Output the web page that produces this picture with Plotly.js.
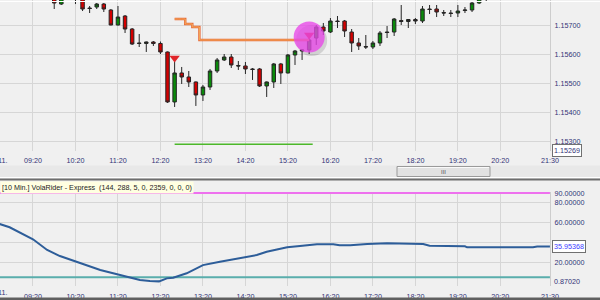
<!DOCTYPE html>
<html>
<head>
<meta charset="utf-8">
<script src="https://cdn.plot.ly/plotly-3.0.1.min.js"></script>
<style>
html,body{margin:0;padding:0;background:#f0f0f0;}
#chart{width:600px;height:300px;}
</style>
</head>
<body>
<div id="chart"></div>
<script>
// ---------- DATA ----------
var DAY = '2010-11-23 ';

var candleTime = ['09:50','10:00','10:10','10:20','10:30','10:40','10:50','11:00','11:10','11:20',
  '11:30','11:40','11:50','12:00','12:10','12:20','12:30','12:40','12:50','13:00',
  '13:10','13:20','13:30','13:40','13:50','14:00','14:10','14:20','14:30','14:40',
  '14:50','15:00','15:10','15:20','15:30','15:40','15:50','16:00','16:10','16:20',
  '16:30','16:40','16:50','17:00','17:10','17:20','17:30','17:40','17:50','18:00',
  '18:10','18:20','18:30','18:40','18:50','19:00','19:10','19:20','19:30','19:40',
  '19:50','20:00'];

var openPrice = [1.158063,1.157720,1.158269,1.158201,1.157960,1.157583,1.157617,1.157720,1.157515,1.157000,
  1.157309,1.156863,1.156383,1.156366,1.156417,1.156366,1.156074,1.154359,1.155354,1.155216,
  1.155045,1.154599,1.154873,1.155422,1.155800,1.155902,1.155611,1.155594,1.155491,1.155491,
  1.154908,1.155045,1.155663,1.155354,1.155971,1.156108,1.156143,1.156554,1.156931,1.156760,
  1.157137,1.157137,1.156760,1.156383,1.156263,1.156245,1.156383,1.156760,1.156760,1.157154,
  1.157120,1.157189,1.157137,1.157549,1.157549,1.157429,1.157412,1.157412,1.157497,1.157515,
  1.157755,1.157960];

var highPrice = [1.158132,1.158063,1.158338,1.158269,1.158029,1.157652,1.157755,1.157755,1.157549,1.157652,
  1.157343,1.156897,1.156691,1.156434,1.156451,1.156434,1.156091,1.155800,1.155560,1.155422,
  1.155062,1.154942,1.155491,1.155868,1.156005,1.156005,1.155765,1.155731,1.155525,1.155525,
  1.155062,1.155697,1.155697,1.156005,1.156143,1.156177,1.156726,1.157000,1.157069,1.157240,
  1.157309,1.157172,1.156863,1.156554,1.156657,1.156451,1.156794,1.156966,1.157240,1.157686,
  1.157206,1.157240,1.157652,1.157686,1.157686,1.157515,1.157515,1.157686,1.157617,1.157789,
  1.158029,1.158201];

var lowPrice = [1.157549,1.157686,1.158029,1.157720,1.157480,1.157412,1.157549,1.157446,1.156990,1.156983,
  1.156726,1.156314,1.156245,1.156074,1.156280,1.156005,1.154325,1.154187,1.154976,1.154873,
  1.154222,1.154393,1.154771,1.155354,1.155765,1.155525,1.155457,1.155319,1.155114,1.154873,
  1.154530,1.154839,1.154976,1.155337,1.155628,1.155800,1.156005,1.156314,1.156657,1.156726,
  1.156897,1.156588,1.156074,1.156143,1.156177,1.156177,1.156280,1.156554,1.156623,1.157000,
  1.156897,1.157034,1.157069,1.157377,1.157274,1.157309,1.157274,1.157274,1.157412,1.157446,
  1.157720,1.157789];

var closePrice = [1.157755,1.157995,1.158132,1.157960,1.157549,1.157566,1.157720,1.157549,1.157000,1.157274,
  1.156863,1.156348,1.156366,1.156417,1.156366,1.156074,1.154359,1.155354,1.155216,1.155045,
  1.154599,1.154873,1.155422,1.155800,1.155902,1.155628,1.155594,1.155491,1.155474,1.154908,
  1.155045,1.155663,1.155354,1.155971,1.156108,1.156143,1.156486,1.156931,1.156794,1.157137,
  1.157120,1.156794,1.156383,1.156280,1.156245,1.156383,1.156726,1.156743,1.157206,1.157120,
  1.157189,1.157137,1.157549,1.157532,1.157446,1.157412,1.157395,1.157480,1.157515,1.157755,
  1.157960,1.158132];

// trailing stop (orange) and target (green)
var stopTime = ['12:40','12:50','13:00','13:10','13:20','15:50'];
var stopPrice = [1.157206,1.157206,1.157034,1.156931,1.156486,1.156486];
var targetTime = ['12:40','15:55'];
var targetPrice = [1.152907,1.152907];

// signal markers
var signalTime = ['12:40','15:50'];
var signalPrice = [1.155868,1.156657];
var highlightTime = ['15:50'];
var highlightPrice = [1.156588];

// indicator (VolaRider)
var voTime = ['08:33','08:47','09:20','09:40','09:58','10:22','10:55','11:23','11:51','12:05',
  '12:18','12:29','12:38','12:57','13:20','13:44','14:02','14:22','14:36','14:50',
  '15:19','15:37','16:01','16:24','16:33','16:48','17:12','17:40','17:58','18:31',
  '18:40','18:59','19:30','19:33','20:19','21:06','21:12','21:30'];
var voValue = [58.7,55.4,43.3,32.5,26.4,20.7,12.3,7.3,2.2,1.2,
  0.87,3.9,4.5,9.0,17.3,20.7,23.1,25.7,27.4,30.8,
  35.2,36.5,38.2,38.2,37.2,37.2,38.5,39.2,38.9,38.5,
  36.8,36.5,36.2,35.2,35.2,35.2,36.0,35.95368];
var voUpper = 90;
var voLower = 5;
var voLast = 35.95368;
var voMin = 0.87020;

// axis ticks
var timeTicks = ['09:20','10:20','11:20','12:20','13:20','14:20','15:20','16:20','17:20','18:20','19:20','20:20','21:30'];
var priceTicks = [1.153,1.154,1.155,1.156,1.157];
var priceTickText = ['1.15300','1.15400','1.15500','1.15600','1.15700'];
var voTicks = [20,40,60,80,90];
var voTickText = ['20.00000','40.00000','60.00000','80.00000','90.00000'];
var lastPrice = 1.15269;
var dateLabel = '23.11.';
var panelTitle = '[10 Min.] VolaRider - Express  (144, 288, 5, 0, 2359, 0, 0, 0)';

// ---------- BUILD ----------
function d(t){ return DAY + t; }
function dl(a){ return a.map(d); }

var FONT = 'Liberation Sans, Arial, sans-serif';
var TICKC = '#333377';
var GRID = '#d6d6d6';

var traces = [
  {type:'candlestick', x:dl(candleTime), open:openPrice, high:highPrice, low:lowPrice, close:closePrice,
   xaxis:'x', yaxis:'y',
   increasing:{line:{color:'#262626', width:1}, fillcolor:'#0a8a0a'},
   decreasing:{line:{color:'#262626', width:1}, fillcolor:'#d40000'},
   whiskerwidth:0, hoverinfo:'skip'},
  {type:'scatter', mode:'lines', x:dl(stopTime), y:stopPrice, xaxis:'x', yaxis:'y',
   line:{color:'#e86a3a', width:2.4, shape:'hvh'}, hoverinfo:'skip'},
  {type:'scatter', mode:'lines', x:dl(stopTime), y:stopPrice, xaxis:'x', yaxis:'y',
   line:{color:'#f4ac5c', width:1, shape:'hvh'}, hoverinfo:'skip'},
  {type:'scatter', mode:'lines', x:dl(targetTime), y:targetPrice, xaxis:'x', yaxis:'y',
   line:{color:'#4cb82a', width:1.5}, hoverinfo:'skip'},
  {type:'scatter', mode:'markers', x:dl(signalTime), y:signalPrice, xaxis:'x', yaxis:'y',
   marker:{symbol:'triangle-down', size:9, color:'#e0262a', line:{width:0}}, hoverinfo:'skip'},
  {type:'scatter', mode:'markers', x:dl(highlightTime), y:highlightPrice, xaxis:'x', yaxis:'y',
   marker:{symbol:'circle', size:31, color:'rgba(232,70,232,0.78)', line:{width:0}}, hoverinfo:'skip'},
  // indicator
  {type:'scatter', mode:'lines', x:[d(voTime[0]), d(voTime[voTime.length-1])], y:[voUpper,voUpper], xaxis:'x2', yaxis:'y2',
   line:{color:'#ee70ee', width:2}, hoverinfo:'skip'},
  {type:'scatter', mode:'lines', x:[d(voTime[0]), d(voTime[voTime.length-1])], y:[voLower,voLower], xaxis:'x2', yaxis:'y2',
   line:{color:'#5aaeac', width:2}, hoverinfo:'skip'},
  {type:'scatter', mode:'lines', x:dl(voTime), y:voValue, xaxis:'x2', yaxis:'y2',
   line:{color:'#2d5d99', width:2}, hoverinfo:'skip'}
];

var xr = [d('08:33:25'), d('21:30:05')];
var H = 300, PW = 550;
function py(p){ return 1 - p/H; }
function px(p){ return p/PW; }

var xcommon = {
  type:'date', range:xr, tickvals:dl(timeTicks), ticktext:timeTicks,
  showgrid:true, gridcolor:GRID, gridwidth:1, zeroline:false, showline:false,
  ticks:'outside', ticklen:3, tickcolor:'rgba(0,0,0,0)',
  tickfont:{family:FONT, size:7.2, color:TICKC}, fixedrange:true
};

var layout = {
  width:600, height:300,
  margin:{l:0, r:50, t:0, b:0, pad:0},
  paper_bgcolor:'#f0f0f0', plot_bgcolor:'#f0f0f0',
  showlegend:false,
  font:{family:FONT, size:7.2, color:TICKC},
  xaxis: Object.assign({}, xcommon, {anchor:'y', domain:[0,1], rangeslider:{visible:false}}),
  xaxis2: Object.assign({}, xcommon, {anchor:'y2', domain:[0,1], matches:'x'}),
  yaxis:{domain:[py(150.6),1], range:[1.15269,1.157858], side:'right', anchor:'x',
    tickvals:priceTicks, ticktext:priceTickText, showgrid:true, gridcolor:GRID, zeroline:false,
    showline:true, linecolor:'#cdcdcd', linewidth:1, ticks:'outside', ticklen:2, tickcolor:'rgba(0,0,0,0)',
    tickfont:{family:FONT, size:7.2, color:TICKC}, fixedrange:true},
  yaxis2:{domain:[py(286),py(192)], range:[-3.8,91.0], side:'right', anchor:'x2',
    tickvals:voTicks, ticktext:voTickText, showgrid:true, gridcolor:GRID, zeroline:false,
    showline:true, linecolor:'#cdcdcd', linewidth:1, ticks:'outside', ticklen:2, tickcolor:'rgba(0,0,0,0)',
    tickfont:{family:FONT, size:7.2, color:TICKC}, fixedrange:true},
  shapes:[
    // circle shadow
    {type:'circle', xref:'x', yref:'y', xsizemode:'pixel', ysizemode:'pixel',
     xanchor:d(highlightTime[0]), yanchor:highlightPrice[0], x0:-13, x1:18, y0:-19, y1:12,
     fillcolor:'rgba(0,0,0,0.13)', line:{width:0}, layer:'between'},
    // top white edge
    {type:'line', xref:'paper', yref:'paper', x0:0, x1:600/PW, y0:py(1.5), y1:py(1.5), line:{color:'#ffffff', width:1}},
    // scrollbar band
    {type:'rect', xref:'paper', yref:'paper', x0:0, x1:600/PW, y0:py(177), y1:py(165.5), fillcolor:'#e8e8e8', line:{width:0}, layer:'below'},
    {type:'line', xref:'paper', yref:'paper', x0:0, x1:600/PW, y0:py(177.5), y1:py(177.5), line:{color:'#ffffff', width:1}},
    {type:'line', xref:'paper', yref:'paper', x0:0, x1:600/PW, y0:py(179.5), y1:py(179.5), line:{color:'#6e6e6e', width:2}},
    {type:'rect', xref:'paper', yref:'paper', x0:px(397), x1:px(490), y0:py(176.5), y1:py(166.5), fillcolor:'#e2e2e2', line:{color:'#9a9a9a', width:1}},
    {type:'line', xref:'paper', yref:'paper', x0:px(398), x1:px(489), y0:py(167.5), y1:py(167.5), line:{color:'#fafafa', width:1}},
    // bottom edge
    {type:'rect', xref:'paper', yref:'paper', x0:0, x1:600/PW, y0:0, y1:py(297.5), fillcolor:'#606060', line:{width:0}}
  ],
  annotations:[
    {xref:'paper', yref:'paper', x:px(443.5), y:py(171.5), text:'III', showarrow:false,
     font:{family:FONT, size:6, color:'#555555'}, xanchor:'center', yanchor:'middle'},
    {xref:'paper', yref:'paper', x:0, y:py(187), text:panelTitle, showarrow:false, xanchor:'left', yanchor:'middle',
     bgcolor:'#ffffe1', borderpad:1, font:{family:FONT, size:7.2, color:'#222222'}},
    {xref:'paper', yref:'paper', x:px(9), y:py(160.5), text:dateLabel, showarrow:false, xanchor:'right', yanchor:'middle',
     font:{family:FONT, size:7.2, color:TICKC}},
    {xref:'paper', yref:'paper', x:px(9), y:py(292), text:dateLabel, showarrow:false, xanchor:'right', yanchor:'middle',
     font:{family:FONT, size:7.2, color:TICKC}},
    {xref:'paper', yref:'y', x:1, xshift:2, y:lastPrice, text:lastPrice.toFixed(5), showarrow:false, xanchor:'left', yanchor:'middle',
     bgcolor:'#ffffff', bordercolor:'#707070', borderwidth:1, borderpad:1, font:{family:FONT, size:7.2, color:TICKC}},
    {xref:'paper', yref:'y2', x:1, xshift:2, y:voMin, text:voMin.toFixed(5), showarrow:false, xanchor:'left', yanchor:'middle',
     font:{family:FONT, size:7.2, color:TICKC}},
    {xref:'paper', yref:'y2', x:1, xshift:2, y:voLast, text:voLast.toFixed(5), showarrow:false, xanchor:'left', yanchor:'middle',
     bgcolor:'#ffffff', bordercolor:'#707070', borderwidth:1, borderpad:1, font:{family:FONT, size:7.2, color:'#3a3aff'}}
  ]
};

Plotly.newPlot('chart', traces, layout, {staticPlot:true, displayModeBar:false});
</script>
</body>
</html>
